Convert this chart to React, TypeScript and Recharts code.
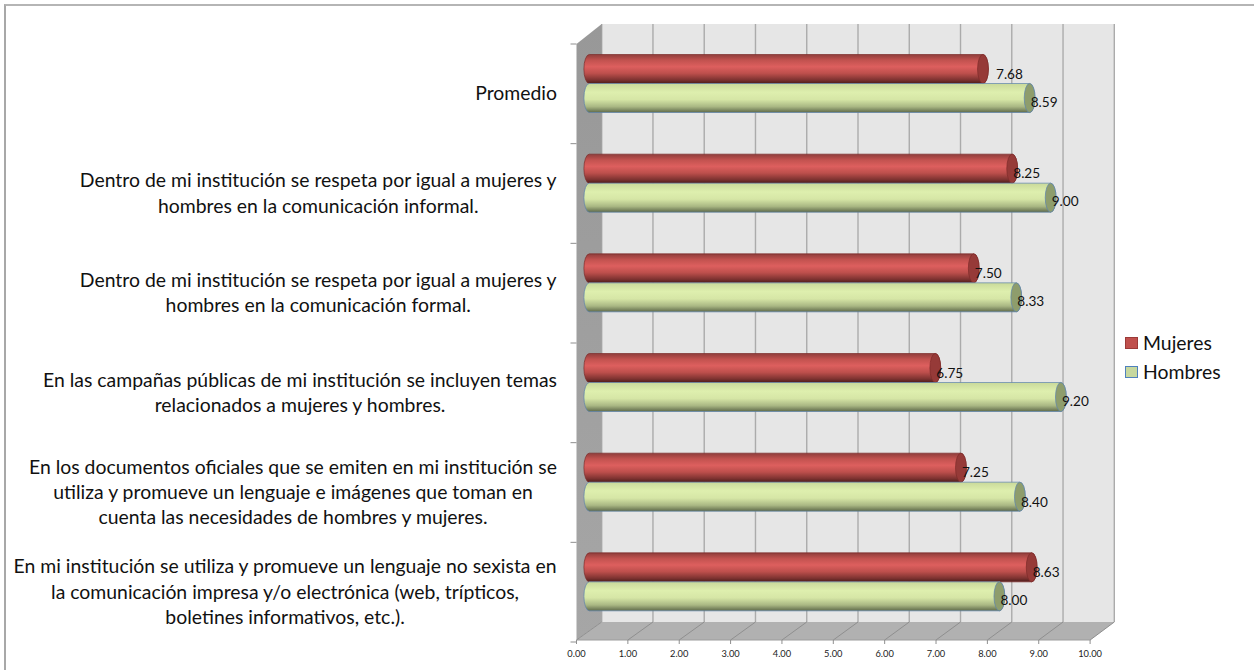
import React from "react";
import { BarChart, Bar, XAxis, YAxis, CartesianGrid, ReferenceArea, LabelList, Legend } from "recharts";

const categories = [
  "Promedio",
  "Dentro de mi institución se respeta por igual a mujeres y|hombres en la comunicación informal.",
  "Dentro de mi institución se respeta por igual a mujeres y|hombres en la comunicación formal.",
  "En las campañas públicas de mi institución se incluyen temas|relacionados a mujeres y hombres.",
  "En los documentos oficiales que se emiten en mi institución se|utiliza y promueve un lenguaje e imágenes que toman en|cuenta las necesidades de hombres y mujeres.",
  "En mi institución se utiliza y promueve un lenguaje no sexista en|la comunicación impresa y/o electrónica (web, trípticos,|boletines informativos, etc.).",
];
const mujeres = [7.68, 8.25, 7.5, 6.75, 7.25, 8.63];
const hombres = [8.59, 9.0, 8.33, 9.2, 8.4, 8.0];
const xTicks = [0, 1, 2, 3, 4, 5, 6, 7, 8, 9, 10];
const data = categories.map((name, i) => ({ name, Mujeres: mujeres[i], Hombres: hombres[i] }));

const W = 1254, H = 670;
const LEFT = 601.7, RIGHT = 1114.3, TOP = 24, BOTTOM = 622;
const DX = 25.2, DY = 18; // depth of the 3D box
const BAR_DX = -12.4, BAR_DY = 9.5;
const BAND = (BOTTOM - TOP) / 6;
const LABEL_FONT = "Lato, Carlito, sans-serif";
const LABEL_SIZE = 19.4;

let ctx: CanvasRenderingContext2D | null = null;
function measure(s: string) {
  if (!ctx) ctx = document.createElement("canvas").getContext("2d");
  ctx!.font = `${LABEL_SIZE}px Lato`;
  return ctx!.measureText(s).width;
}

const Box = ({ x, y, width, height }: any) => (
  <g>
    <polygon points={`${x - DX},${y + 20} ${x},${y} ${x},${y + height} ${x - DX},${y + height + DY}`} fill="url(#wallGrad)" />
    <polygon points={`${x},${y + height} ${x + width},${y + height} ${x + width - 24},${y + height + DY} ${x - DX},${y + height + DY}`} fill="#b1b1b1" />
    <line x1={x - DX} y1={y + height + DY} x2={x + width - 24} y2={y + height + DY} stroke="#9c9c9c" strokeWidth={1} />
  </g>
);

const XTick = ({ x, payload }: any) => {
  const fx = x - DX + (payload.value / 10) * 1;
  return (
    <g>
      <line x1={x} y1={BOTTOM} x2={fx} y2={BOTTOM + DY} stroke="#8f8f8f" strokeWidth={1} />
      <line x1={fx} y1={BOTTOM + DY} x2={fx} y2={BOTTOM + DY + 4} stroke="#8f8f8f" strokeWidth={1} />
      <text x={fx} y={BOTTOM + 34.5} textAnchor="middle" fontFamily={LABEL_FONT} fontSize={9.3} fill="#222">
        {payload.value.toFixed(2)}
      </text>
    </g>
  );
};

const YTick = ({ y, payload, index }: any) => {
  const lines: string[] = String(payload.value).split("|");
  const blockW = Math.max(...lines.map(measure));
  const cx = 557 - blockW / 2;
  const cy = y + 20;
  const lh = 25.4;
  const top = cy - (lh * (lines.length - 1)) / 2;
  const tickTop = y + 20 - BAND / 2;
  const wx = LEFT - DX;
  return (
    <g>
      <line x1={wx - 6} x2={wx} y1={tickTop} y2={tickTop} stroke="#8f8f8f" />
      {index === categories.length - 1 && (
        <line x1={wx - 6} x2={wx} y1={tickTop + BAND} y2={tickTop + BAND} stroke="#8f8f8f" />
      )}
      {lines.map((l, i) => (
        <text key={i} x={cx} y={top + lh * i + 6.5} textAnchor="middle" fontFamily={LABEL_FONT} fontSize={LABEL_SIZE} fill="#111">
          {l}
        </text>
      ))}
    </g>
  );
};

const cylinder = (grad: string, cap: string, edge: string) => ({ x, y, width, height }: any) => {
  const rx = 5.4;
  const x0 = x + BAR_DX;
  const x1 = x0 + width;
  const yy = y + BAR_DY;
  const h = height;
  return (
    <g>
      <path
        d={`M${x0},${yy} L${x1},${yy} A${rx},${h / 2} 0 0 1 ${x1},${yy + h} L${x0},${yy + h} A${rx},${h / 2} 0 0 1 ${x0},${yy} Z`}
        fill={`url(#${grad})`}
        stroke={edge}
        strokeWidth={0.7}
      />
      <ellipse cx={x1} cy={yy + h / 2} rx={rx} ry={h / 2} fill={cap} stroke={edge} strokeWidth={0.7} />
    </g>
  );
};

const valueLabel = (fromTop: number, values: number[]) => (p: any) => {
  const i = p.index;
  const nudge = values[i] === 7.68 ? 12 : 0;
  const lift = values[i] === 8.4 ? 2 : 0;
  return (
    <text
      x={p.x + BAR_DX + p.width + 14.5 + nudge}
      y={p.y + BAR_DY + p.height / 2 + fromTop + lift}
      textAnchor="middle"
      fontFamily={LABEL_FONT}
      fontSize={13.6}
      fill="#111"
    >
      {values[i].toFixed(2)}
    </text>
  );
};

const legendItems = [
  ["Mujeres", "#c0504d", "#9b3a38"],
  ["Hombres", "#c7d89f", "#4f81bd"],
];
const LegendBox = () => (
  <div style={{ fontFamily: LABEL_FONT, fontSize: 19.4, color: "#111" }}>
    {legendItems.map(([n, f, s]) => (
      <div key={n} style={{ display: "flex", alignItems: "center", height: 29.2 }}>
        <span style={{ width: 13, height: 12, boxSizing: "border-box", background: f, border: `1px solid ${s}`, marginRight: 5, display: "inline-block" }} />
        {n}
      </div>
    ))}
  </div>
);

export default function App() {
  return (
    <div style={{ position: "absolute", left: 0, top: 0, width: W, height: H, background: "#fff", overflow: "hidden" }}>
      <div style={{ position: "absolute", left: 4, top: 4, width: W, height: H, borderLeft: "2px solid #a8a8a8", borderTop: "2px solid #b5b5b5", boxSizing: "border-box" }} />
      <BarChart
        width={W}
        height={H}
        data={data}
        layout="vertical"
        barSize={29}
        barGap={0}
        margin={{ top: TOP, right: W - RIGHT, bottom: 0, left: 0 }}
        style={{ position: "absolute", left: 0, top: 0 }}
      >
        <defs>
          <linearGradient id="wallGrad" x1="0" y1="0" x2="0" y2="1">
            <stop offset="0" stopColor="#989898" />
            <stop offset="1" stopColor="#a6a6a6" />
          </linearGradient>
          <linearGradient id="redGrad" x1="0" y1="0" x2="0" y2="1">
            <stop offset="0" stopColor="#8f3d3b" />
            <stop offset="0.2" stopColor="#c2524f" />
            <stop offset="0.42" stopColor="#dd5f5e" />
            <stop offset="0.65" stopColor="#bd4f4c" />
            <stop offset="0.88" stopColor="#7c3230" />
            <stop offset="1" stopColor="#4d1c1b" />
          </linearGradient>
          <linearGradient id="greenGrad" x1="0" y1="0" x2="0" y2="1">
            <stop offset="0" stopColor="#c9d99a" />
            <stop offset="0.3" stopColor="#deefae" />
            <stop offset="0.55" stopColor="#d6e6a6" />
            <stop offset="0.8" stopColor="#a9b783" />
            <stop offset="1" stopColor="#5f6a4a" />
          </linearGradient>
        </defs>
        <CartesianGrid horizontal={false} stroke="#ababab" strokeWidth={1.4} fill="#e6e6e6" />
        <ReferenceArea x1={0} x2={10} shape={<Box />} ifOverflow="visible" />
        <XAxis
          type="number"
          domain={[0, 10]}
          ticks={xTicks}
          interval={0}
          height={670 - BOTTOM}
          axisLine={false}
          tickLine={false}
          tick={<XTick />}
        />
        <YAxis
          type="category"
          dataKey="name"
          width={LEFT}
          interval={0}
          axisLine={false}
          tickLine={false}
          tick={<YTick />}
        />
        <Legend
          layout="vertical"
          verticalAlign="middle"
          align="center"
          content={<LegendBox />}
          wrapperStyle={{ position: "absolute", left: 1125, top: 328, width: 120, right: "auto", bottom: "auto" }}
        />
        <Bar dataKey="Mujeres" fill="#c0504d" isAnimationActive={false} shape={cylinder("redGrad", "#963a38", "#7d2b29")}>
          <LabelList content={valueLabel(9.5, mujeres)} />
        </Bar>
        <Bar dataKey="Hombres" fill="#d7e4a5" isAnimationActive={false} shape={cylinder("greenGrad", "#8e9d6c", "#5b83ad")}>
          <LabelList content={valueLabel(8.5, hombres)} />
        </Bar>
      </BarChart>
    </div>
  );
}
